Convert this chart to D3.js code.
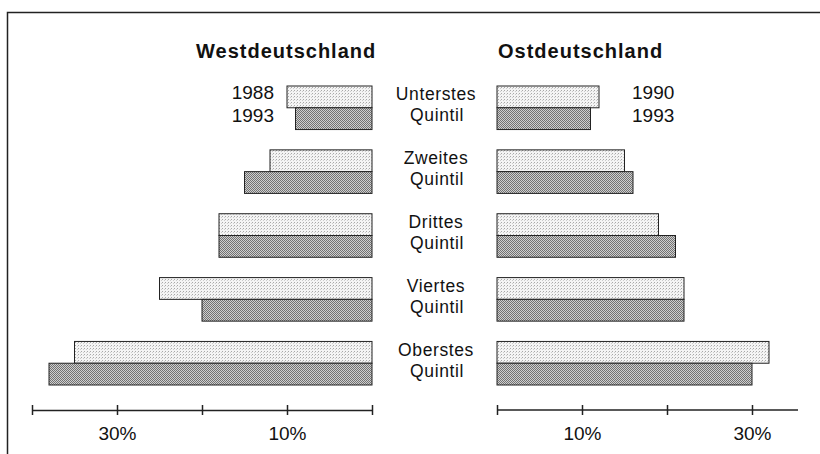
<!DOCTYPE html>
<html>
<head>
<meta charset="utf-8">
<script src="https://cdn.jsdelivr.net/npm/d3@7"></script>
<style>
  body { margin: 0; background: #fff; }
  text { font-family: "Liberation Sans", Arial, Helvetica, sans-serif; fill: #111; }
</style>
</head>
<body>
<div id="chart"></div>
<script>
// Einkommensanteile nach Quintil (in %)
const quintiles = ["Unterstes", "Zweites", "Drittes", "Viertes", "Oberstes"];
const west1988 = [10, 12, 18, 25, 35];
const west1993 = [9, 15, 18, 20, 38];
const east1990 = [12, 15, 19, 22, 32];
const east1993 = [11, 16, 21, 22, 30];
const tickValues = [0, 10, 20, 30, 40];
const tickLabels = { 10: "10%", 30: "30%" };

const width = 820;
const height = 454;

const svg = d3.select("#chart")
  .append("svg")
  .attr("width", width)
  .attr("height", height);

// Raster-Muster wie im Druck
const defs = svg.append("defs");
const light = defs.append("pattern")
  .attr("id", "light").attr("patternUnits", "userSpaceOnUse")
  .attr("width", 3).attr("height", 3);
light.append("rect").attr("width", 3).attr("height", 3).attr("fill", "#f4f4f4");
light.append("rect").attr("x", 0).attr("y", 0).attr("width", 1).attr("height", 1).attr("fill", "#a8a8a8");
light.append("rect").attr("x", 2).attr("y", 1).attr("width", 1).attr("height", 1).attr("fill", "#cccccc");

const dark = defs.append("pattern")
  .attr("id", "dark").attr("patternUnits", "userSpaceOnUse")
  .attr("width", 2).attr("height", 2);
dark.append("rect").attr("width", 2).attr("height", 2).attr("fill", "#cfcfcf");
dark.append("rect").attr("x", 0).attr("y", 0).attr("width", 1).attr("height", 1).attr("fill", "#727272");
dark.append("rect").attr("x", 1).attr("y", 1).attr("width", 1).attr("height", 1).attr("fill", "#727272");

// Rahmen
svg.append("path")
  .attr("d", "M7.5,454 V12.5 H820")
  .attr("fill", "none")
  .attr("stroke", "#222")
  .attr("stroke-width", 1.5);

// Skalen
const y = d3.scaleBand()
  .domain(quintiles)
  .range([86, 385])
  .paddingInner(0.318);

const xWest = d3.scaleLinear().domain([0, 40]).range([372, 32]);
const xEast = d3.scaleLinear().domain([0, 40]).range([497, 837]);
const eastEnd = 798;

const half = y.bandwidth() / 2;

function drawBars(x, values, sub, fill, side) {
  svg.append("g")
    .selectAll("rect")
    .data(values)
    .join("rect")
    .attr("x", d => side === "west" ? x(d) : x(0))
    .attr("y", (d, i) => y(quintiles[i]) + sub * half)
    .attr("width", d => Math.abs(x(d) - x(0)))
    .attr("height", half)
    .attr("fill", fill)
    .attr("stroke", "#222")
    .attr("stroke-width", 1);
}

drawBars(xWest, west1988, 0, "url(#light)", "west");
drawBars(xWest, west1993, 1, "url(#dark)", "west");
drawBars(xEast, east1990, 0, "url(#light)", "east");
drawBars(xEast, east1993, 1, "url(#dark)", "east");

// Titel
svg.append("text")
  .attr("x", 196).attr("y", 58)
  .attr("font-size", 20).attr("font-weight", "bold")
  .attr("letter-spacing", 1)
  .text("Westdeutschland");
svg.append("text")
  .attr("x", 498).attr("y", 58)
  .attr("font-size", 20).attr("font-weight", "bold")
  .attr("letter-spacing", 1)
  .text("Ostdeutschland");

// Quintil-Beschriftungen in der Mitte
const labels = svg.append("g")
  .attr("text-anchor", "middle")
  .attr("font-size", 17.5)
  .attr("letter-spacing", 0.6);
quintiles.forEach(q => {
  const c = y(q) + y.bandwidth() / 2;
  labels.append("text").attr("x", 436).attr("y", c - 7.5).text(q);
  labels.append("text").attr("x", 437).attr("y", c + 13.5).text("Quintil");
});

// Jahres-Legende
const yTop = y(quintiles[0]);
svg.append("text").attr("x", 274).attr("y", yTop + 13).attr("text-anchor", "end").attr("font-size", 19).text("1988");
svg.append("text").attr("x", 274).attr("y", yTop + 36).attr("text-anchor", "end").attr("font-size", 19).text("1993");
svg.append("text").attr("x", 632).attr("y", yTop + 13).attr("font-size", 19).text("1990");
svg.append("text").attr("x", 632).attr("y", yTop + 36).attr("font-size", 19).text("1993");

// Achsen
const axisY = 410;

const westAxis = svg.append("g")
  .attr("transform", `translate(0,${axisY})`)
  .call(d3.axisBottom(xWest)
    .tickValues(tickValues)
    .tickSizeOuter(0)
    .tickSizeInner(5)
    .tickFormat(d => tickLabels[d] || ""));

const eastAxis = svg.append("g")
  .attr("transform", `translate(0,${axisY})`)
  .call(d3.axisBottom(xEast)
    .tickValues(tickValues.filter(v => xEast(v) <= eastEnd))
    .tickSizeOuter(0)
    .tickSizeInner(5)
    .tickFormat(d => tickLabels[d] || ""));

eastAxis.select(".domain").attr("d", `M${xEast(0)},0H${eastEnd}`);

[westAxis, eastAxis].forEach(a => {
  a.select(".domain").attr("stroke", "#222").attr("stroke-width", 1.5);
  a.selectAll(".tick line").attr("y1", -5).attr("y2", 5).attr("stroke", "#222").attr("stroke-width", 1.5);
  a.selectAll(".tick text")
    .attr("y", 17)
    .attr("font-size", 19)
    .attr("font-family", "'Liberation Sans', Arial, sans-serif")
    .attr("fill", "#111");
});
</script>
</body>
</html>
